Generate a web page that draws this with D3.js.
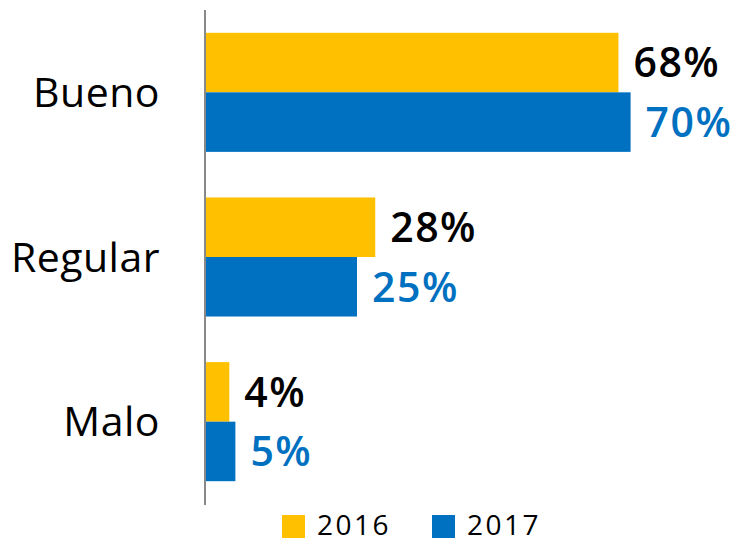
<!DOCTYPE html>
<html>
<head>
<meta charset="utf-8">
<script src="https://cdn.jsdelivr.net/npm/d3@7"></script>
<style>
  body { margin: 0; background: #fff; }
  text { font-family: "Open Sans", "DejaVu Sans", sans-serif; }
</style>
</head>
<body>
<script>
var categories = ["Bueno", "Regular", "Malo"];
var years = ["2016", "2017"];
var values2016 = [68, 28, 4];
var values2017 = [70, 25, 5];
var colors = ["#FFC000", "#0070C0"];
var labelColors = ["#000000", "#0070C0"];

var w = 737,
    h = 544,
    left = 205;

var rows = categories.map(function(c, i) {
    return { cat: c, vals: [values2016[i], values2017[i]] };
});

var x = d3.scaleLinear()
    .domain([0, 100])
    .range([left, left + 608]);

var y = d3.scaleBand()
    .domain(categories)
    .range([10, 504])
    .paddingInner(0.277)
    .paddingOuter(0.1385);

var ySub = d3.scaleBand()
    .domain(years)
    .range([0, y.bandwidth()]);

var svg = d3.select("body")
    .append("svg")
    .attr("width", w)
    .attr("height", h);

var groups = svg.selectAll(".grp")
    .data(rows)
    .enter()
    .append("g")
    .attr("class", "grp")
    .attr("transform", function(d) { return "translate(0," + y(d.cat) + ")"; });

groups.selectAll("rect")
    .data(function(d) { return d.vals; })
    .enter()
    .append("rect")
    .attr("x", x(0))
    .attr("y", function(d, i) { return ySub(years[i]); })
    .attr("width", function(d) { return x(d) - x(0); })
    .attr("height", ySub.bandwidth())
    .attr("fill", function(d, i) { return colors[i]; });

groups.selectAll(".val")
    .data(function(d) { return d.vals; })
    .enter()
    .append("text")
    .attr("class", "val")
    .attr("x", function(d) { return x(d) + 15; })
    .attr("y", function(d, i) { return ySub(years[i]) + ySub.bandwidth() / 2; })
    .attr("dy", "0.36em")
    .attr("font-size", 41)
    .attr("font-weight", 600)
    .attr("letter-spacing", 1.5)
    .attr("fill", function(d, i) { return labelColors[i]; })
    .text(function(d) { return d + "%"; });

// category labels
svg.selectAll(".cat")
    .data(categories)
    .enter()
    .append("text")
    .attr("class", "cat")
    .attr("x", 160)
    .attr("y", function(d) { return y(d) + y.bandwidth() / 2; })
    .attr("dy", "0.36em")
    .attr("text-anchor", "end")
    .attr("font-size", 41)
    .attr("letter-spacing", 0.5)
    .attr("fill", "#000")
    .text(function(d) { return d; });

// axis line
svg.append("line")
    .attr("x1", x(0))
    .attr("x2", x(0))
    .attr("y1", 10)
    .attr("y2", 505)
    .attr("stroke", "#898989")
    .attr("stroke-width", 2);

// legend
var legendX = [282, 432];
var legend = svg.selectAll(".leg")
    .data(years)
    .enter()
    .append("g")
    .attr("class", "leg")
    .attr("transform", function(d, i) { return "translate(" + legendX[i] + ",515)"; });

legend.append("rect")
    .attr("width", 23)
    .attr("height", 23)
    .attr("fill", function(d, i) { return colors[i]; });

legend.append("text")
    .attr("x", 35)
    .attr("y", 20)
    .attr("font-size", 28)
    .attr("letter-spacing", 2.5)
    .attr("fill", "#000")
    .text(function(d) { return d; });
</script>
</body>
</html>
